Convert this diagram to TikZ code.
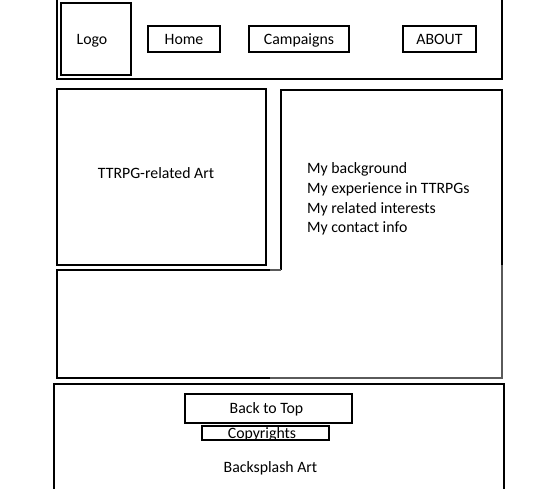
\documentclass[tikz,border=0pt]{standalone}
\usepackage{fontspec}
\setmainfont{Carlito}
\usepackage{xcolor}
\usetikzlibrary{positioning}
\definecolor{edgegray}{RGB}{90, 90, 90}

\begin{document}
\begin{tikzpicture}[
    x=1pt, y=-1pt,
    frame/.style={draw, line width=2pt, inner sep=0pt, text height=12.5pt, text depth=1.5pt, font=\fontsize{15.8}{18}\selectfont},
    navbox/.style={frame, minimum height=26pt},
    label/.style={font=\fontsize{15.8}{19.7}\selectfont, inner sep=0pt, text height=12.5pt, text depth=1.5pt}
]
    \useasboundingbox (0,0) rectangle (554,488);

    % Header
    \draw[line width=2pt] (57,-5) rectangle (502,79);
    \node[frame, minimum width=70pt, minimum height=72pt] (logo) at (96,39) {\hspace*{-8pt}Logo};
    \node[navbox, minimum width=72pt] (home) at (184,39) {Home};
    \node[navbox, minimum width=100pt] (campaigns) at (299,38.5) {Campaigns};
    \node[navbox, minimum width=73pt] (about) at (439.5,38.5) {ABOUT};

    % Art panel
    \node[frame, minimum width=209pt, minimum height=176pt] (art) at (161.5,177) {};
    \node[label] (arttext) at (156,173) {TTRPG-related Art};

    % About panel and lower panel
    \draw[line width=2pt] (281,270) -- (281,90) -- (502,90) -- (502,265);
    \draw[line width=2pt] (270,270) -- (57,270) -- (57,378) -- (270,378);
    \draw[line width=2pt, edgegray] (270,378) -- (502,378) -- (502,265);
    \draw[line width=2pt, edgegray] (270,270) -- (281,270);
    \node[font=\fontsize{15.8}{19.7}\selectfont, inner sep=0pt, anchor=north west, align=left] (info) at (307,162.5) {My background\\My experience in TTRPGs\\My related interests\\My contact info};

    % Footer
    \draw[line width=2pt] (54,495) -- (54,384) -- (504,384) -- (504,495);
    \node[frame, minimum width=167pt, minimum height=29pt] (backtop) at (268.5,408) {\hspace*{-4pt}Back to Top};
    \node[frame, minimum width=127pt, minimum height=14pt] (copy) at (265.5,433) {\hspace*{-7pt}Copyrights};
    \node[label] (splash) at (270.5,467) {Backsplash Art};
\end{tikzpicture}
\end{document}
